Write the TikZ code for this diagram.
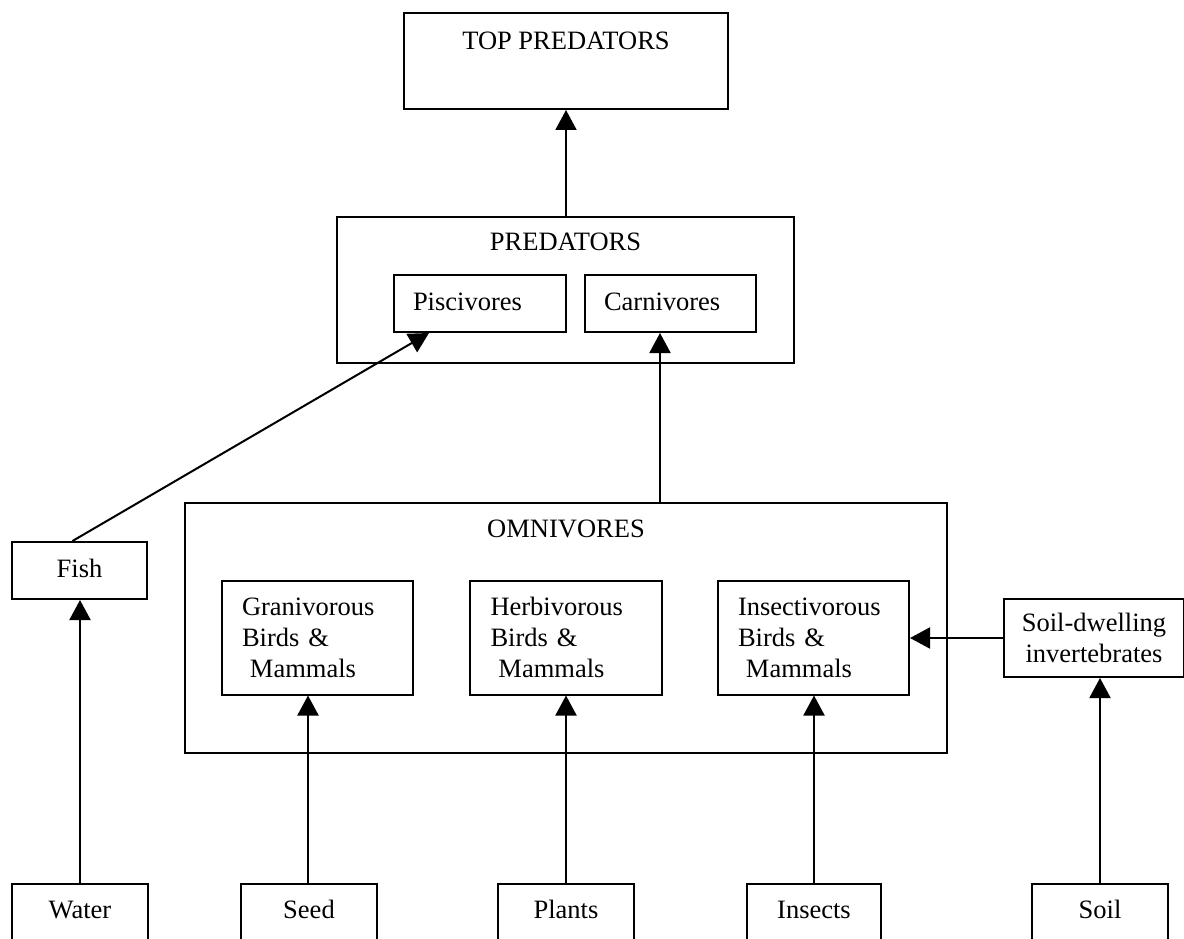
\documentclass[tikz,border=0pt]{standalone}
\usepackage{fontspec}
\setmainfont{Liberation Serif}
\usetikzlibrary{arrows.meta,calc}
\begin{document}
\begin{tikzpicture}[x=1pt,y=-1pt,
  txt/.style={font=\fontsize{26.5}{31}\selectfont},
  box/.style={draw, line width=2pt, inner sep=0pt, txt},
  one/.style={text height=18pt, text depth=5pt},
  sub/.style={box, minimum height=114pt, text width=151pt, align=left, inner xsep=20pt},
  arr/.style={line width=2pt, -{Triangle[length=20pt,width=21pt]}},
  lbl/.style={txt, inner sep=0pt}
]
\useasboundingbox (0,0) rectangle (1184,939);
\clip (0,0) rectangle (1184,939);
% top predators
\node[box, minimum width=324pt, minimum height=96pt,
  label={[lbl, anchor=center, yshift=-29pt]north:TOP PREDATORS}] (top) at (566,61) {};
% predators
\node[box, minimum width=457pt, minimum height=146pt,
  label={[lbl, anchor=center, yshift=-26pt]north:PREDATORS}] (pred) at (565.5,290) {};
\node[box, one, minimum width=172pt, minimum height=57pt, text width=134pt, align=left, inner xsep=19pt] (pisc) at (480,303.5) {Piscivores};
\node[box, one, minimum width=171pt, minimum height=57pt, text width=133pt, align=left, inner xsep=19pt] (carn) at (670.5,303.5) {Carnivores};
% omnivores
\node[box, minimum width=762pt, minimum height=250pt,
  label={[lbl, anchor=center, yshift=-27pt]north:OMNIVORES}] (omni) at (566,628) {};
\node[sub, minimum width=191pt] (gran) at (317.5,637.5) {Granivorous\\Birds \&\\\hspace{0.3em}Mammals};
\node[sub, minimum width=192pt] (herb) at (566,637.5) {Herbivorous\\Birds \&\\\hspace{0.3em}Mammals};
\node[sub, minimum width=191pt] (insv) at (813.5,637.5) {Insectivorous\\Birds \&\\\hspace{0.3em}Mammals};
% fish, soil-dwelling
\node[box, one, minimum width=135pt, minimum height=57pt] (fish) at (79.5,570.5) {Fish};
\node[box, minimum width=180pt, minimum height=78pt, align=center] (soildw) at (1094,638) {Soil-dwelling\\invertebrates};
% bottom boxes
\node[box, one, minimum width=136pt, minimum height=56pt] (water) at (80,912) {Water};
\node[box, one, minimum width=136pt, minimum height=56pt] (seed) at (309,912) {Seed};
\node[box, one, minimum width=136pt, minimum height=56pt] (plants) at (566,912) {Plants};
\node[box, one, minimum width=134pt, minimum height=56pt] (insects) at (814,912) {Insects};
\node[box, one, minimum width=136pt, minimum height=56pt] (soil) at (1100,912) {Soil};
% connectors
\coordinate (px) at (566,0);
\draw[arr] (pred.north -| px) -- (top.south -| px);
\draw[arr] ([xshift=-7pt]fish.north) -- ([xshift=36pt]pisc.south west);
\coordinate (cx) at (660,0);
\draw[arr] (omni.north -| cx) -- (carn.south -| cx);
\draw[arr] (soildw.west) -- (soildw.west -| insv.east);
\draw[arr] (water.north) -- (water.north |- fish.south);
\draw[arr] ([xshift=-1pt]seed.north) -- ([xshift=-1pt]seed.north |- gran.south);
\draw[arr] (plants.north) -- (plants.north |- herb.south);
\draw[arr] (insects.north) -- (insects.north |- insv.south);
\draw[arr] (soil.north) -- (soil.north |- soildw.south);
\end{tikzpicture}
\end{document}
